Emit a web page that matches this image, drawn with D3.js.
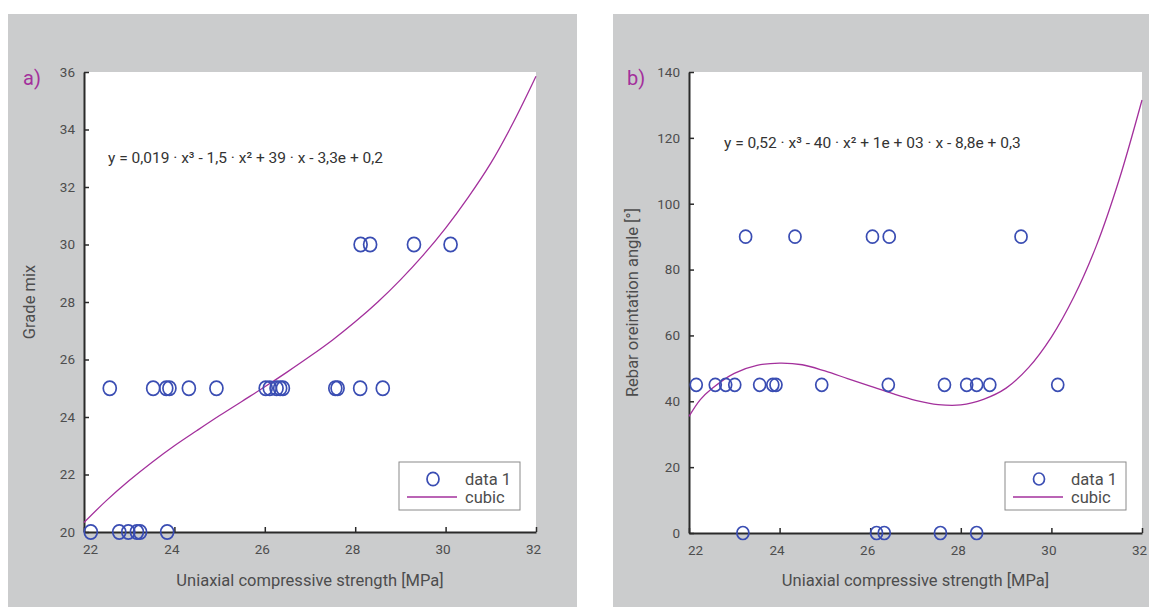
<!DOCTYPE html>
<html><head><meta charset="utf-8">
<script src="https://cdn.jsdelivr.net/npm/d3@7"></script>
<style>
html,body{margin:0;padding:0;background:#fff;}
text{font-family:Roboto,"Open Sans",sans-serif;}
</style></head>
<body>
<svg id="c" width="1149" height="607"></svg>
<script>
// ---- data ----
const xTicks = [22, 24, 26, 28, 30, 32];
const yTicksA = [20, 22, 24, 26, 28, 30, 32, 34, 36];
const yTicksB = [0, 20, 40, 60, 80, 100, 120, 140];

// panel a: Grade mix vs UCS
const aX = [22.15, 22.78, 22.98, 23.17, 23.24, 23.84,
            22.57, 23.53, 23.82, 23.89, 24.32, 24.93, 26.02, 26.11, 26.26, 26.34, 26.40, 27.56, 27.61, 28.11, 28.61,
            28.12, 28.33, 29.30, 30.11];
const aY = [20, 20, 20, 20, 20, 20,
            25, 25, 25, 25, 25, 25, 25, 25, 25, 25, 25, 25, 25, 25, 25,
            30, 30, 30, 30];
// panel a cubic fit
const aFitX = [22.0, 22.5, 23.0, 23.5, 24.0, 24.5, 25.0, 25.5, 26.0, 26.5, 27.0, 27.5, 28.0, 28.5, 29.0, 29.5, 30.0, 30.5, 31.0, 31.5, 32.0];
const aFitY = [20.33, 21.1, 21.79, 22.42, 23.0, 23.53, 24.05, 24.55, 25.05, 25.57, 26.11, 26.68, 27.31, 28.0, 28.77, 29.62, 30.57, 31.64, 32.83, 34.25, 35.85];

// panel b: Rebar orientation angle vs UCS
const bX = [23.25, 24.34, 26.05, 26.42, 29.33,
            22.16, 22.58, 22.81, 23.01, 23.56, 23.85, 23.92, 24.93, 26.40, 27.64, 28.13, 28.35, 28.64, 30.14,
            23.19, 26.14, 26.31, 27.55, 28.35];
const bY = [90, 90, 90, 90, 90,
            45, 45, 45, 45, 45, 45, 45, 45, 45, 45, 45, 45, 45, 45,
            0, 0, 0, 0, 0];
const bFitX = [22.0, 22.25, 22.5, 23.0, 23.5, 24.0, 24.5, 25.0, 25.5, 26.0, 26.5, 27.0, 27.5, 28.0, 28.5, 29.0, 29.5, 30.0, 30.5, 31.0, 31.5, 32.0];
const bFitY = [35.4, 40.5, 43.8, 48.5, 50.9, 51.6, 51.1, 49.2, 46.9, 44.6, 42.3, 40.3, 39.0, 38.9, 40.6, 44.0, 50.3, 59.5, 71.8, 87.5, 107.5, 131.5];

const eqA = "y = 0,019 · x³ - 1,5 · x² + 39 · x - 3,3e + 0,2";
const eqB = "y = 0,52 · x³ - 40 · x² + 1e + 03 · x - 8,8e + 0,3";
const xLabel = "Uniaxial compressive strength [MPa]";
const yLabelA = "Grade mix";
const yLabelB = "Rebar oreintation angle [°]";
const legendLabels = ["data 1", "cubic"];

// ---- styles ----
const GREY = "#cbcccd", PURPLE = "#a3309c", BLUE = "#3a4db3", AXIS = "#2a2a2a", TXT = "#4d4d4d";

const svg = d3.select("#c");

function panel(cfg) {
  const g = svg.append("g");
  g.append("rect").attr("x", cfg.bg[0]).attr("y", cfg.bg[1]).attr("width", cfg.bg[2]).attr("height", cfg.bg[3]).attr("fill", GREY);
  const x = d3.scaleLinear().domain([22, 32]).range(cfg.xr);
  const y = d3.scaleLinear().domain(cfg.yd).range(cfg.yr);
  g.append("rect").attr("x", cfg.xr[0]).attr("y", cfg.yr[1]).attr("width", cfg.xr[1] - cfg.xr[0]).attr("height", cfg.yr[0] - cfg.yr[1]).attr("fill", "#fff");

  // axes
  const ax = g.append("g").attr("transform", `translate(0,${cfg.yr[0]})`)
    .call(d3.axisBottom(x).tickValues(xTicks).tickSizeInner(-5).tickSizeOuter(0).tickPadding(12).tickFormat(d3.format("d")));
  const ay = g.append("g").attr("transform", `translate(${cfg.xr[0]},0)`)
    .call(d3.axisLeft(y).tickValues(cfg.yt).tickSizeInner(-5).tickSizeOuter(0).tickPadding(9).tickFormat(d3.format("d")));
  [ax, ay].forEach(a => {
    a.select(".domain").attr("stroke", AXIS).attr("stroke-width", 2);
    a.selectAll(".tick line").attr("stroke", AXIS).attr("stroke-width", 1.5);
    a.selectAll(".tick text").attr("fill", TXT).style("font-size", "13.5px").style("font-family", "Roboto, sans-serif");
  });
  // first x label sits slightly right of its tick, others slightly left
  ax.selectAll(".tick text").attr("dx", d => d === 22 ? 6 : -3);

  // fit curve
  const pts = cfg.fx.map((v, i) => [v, cfg.fy[i]]);
  g.append("path").datum(pts)
    .attr("d", d3.line().x(d => x(d[0])).y(d => y(d[1])).curve(d3.curveCatmullRom))
    .attr("fill", "none").attr("stroke", PURPLE).attr("stroke-width", 1.3);

  // data markers
  g.selectAll("ellipse.pt").data(cfg.px.map((v, i) => [v, cfg.py[i]])).enter()
    .append("ellipse").attr("class", "pt")
    .attr("cx", d => x(d[0])).attr("cy", d => y(d[1]))
    .attr("rx", cfg.rx).attr("ry", cfg.ry)
    .attr("fill", "none").attr("stroke", BLUE).attr("stroke-width", 1.7);

  // equation
  g.append("text").attr("x", cfg.eqPos[0]).attr("y", cfg.eqPos[1]).text(cfg.eq)
    .attr("fill", "#333").style("font-size", "15.5px");

  // labels
  g.append("text").attr("x", (cfg.xr[0] + cfg.xr[1]) / 2).attr("y", 586).attr("text-anchor", "middle")
    .text(xLabel).attr("fill", TXT).style("font-size", "16.5px");
  g.append("text").attr("transform", `translate(${cfg.ylx},${(cfg.yr[0] + cfg.yr[1]) / 2}) rotate(-90)`)
    .attr("text-anchor", "middle").text(cfg.yl).attr("fill", TXT).style("font-size", "16.5px");
  g.append("text").attr("x", cfg.tag[0]).attr("y", cfg.tag[1]).text(cfg.tagText)
    .attr("fill", PURPLE).style("font-size", "20px");

  // legend
  const lx = cfg.xr[1] - 16 - 121, ly = 462;
  const lg = g.append("g").attr("transform", `translate(${lx},${ly})`);
  lg.append("rect").attr("width", 121).attr("height", 48).attr("fill", "#fff").attr("stroke", "#8a8a8a").attr("stroke-width", 1);
  lg.append("ellipse").attr("cx", 34).attr("cy", 17).attr("rx", cfg.rx - 0.5).attr("ry", cfg.ry - 0.5)
    .attr("fill", "none").attr("stroke", BLUE).attr("stroke-width", 1.7);
  lg.append("line").attr("x1", 8).attr("x2", 58).attr("y1", 35).attr("y2", 35).attr("stroke", PURPLE).attr("stroke-width", 1.3);
  legendLabels.forEach((t, i) => {
    lg.append("text").attr("x", 66).attr("y", 23 + i * 18).text(t).attr("fill", TXT).style("font-size", "16.5px");
  });
}

panel({
  bg: [8, 14, 569, 593], xr: [84, 536], yd: [20, 36], yr: [532, 72], yt: yTicksA,
  px: aX, py: aY, fx: aFitX, fy: aFitY, rx: 6.5, ry: 7.2,
  eq: eqA, eqPos: [108, 163], yl: yLabelA, ylx: 35, tag: [23, 85], tagText: "a)"
});
panel({
  bg: [613, 14, 536, 593], xr: [689, 1142], yd: [0, 140], yr: [533, 72], yt: yTicksB,
  px: bX, py: bY, fx: bFitX, fy: bFitY, rx: 6, ry: 6.5,
  eq: eqB, eqPos: [724, 148], yl: yLabelB, ylx: 638, tag: [627, 85], tagText: "b)"
});
</script>
</body></html>
